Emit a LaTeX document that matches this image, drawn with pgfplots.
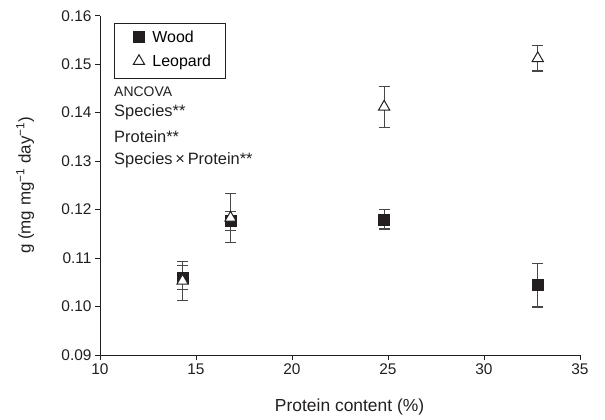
\documentclass[border=0pt]{standalone}
\usepackage{fontspec}
\setmainfont{Liberation Sans}
\usepackage{pgfplots}
\pgfplotsset{compat=1.18}
\definecolor{ink}{HTML}{231F20}
\begin{document}
\begin{tikzpicture}
\begin{axis}[
  at={(100bp,65bp)}, anchor=south west,
  scale only axis, width=480bp, height=339.3bp,
  xmin=10, xmax=35, ymin=0.09, ymax=0.16,
  axis x line*=bottom, axis y line*=left,
  axis line style={ink, line width=1bp},
  xtick={10,15,20,25,30,35},
  ytick={0.09,0.10,0.11,0.12,0.13,0.14,0.15,0.16},
  tick align=outside, major tick length=5bp,
  tick style={ink, line width=1bp},
  /pgf/number format/assume math mode=true,
  yticklabel style={/pgf/number format/fixed, /pgf/number format/fixed zerofill, /pgf/number format/precision=2},
  ticklabel style={font=\fontsize{15.5}{18}\selectfont, text=ink},
  xlabel={Protein content (\%)},
  ylabel={g (mg mg\textsuperscript{−1} day\textsuperscript{−1})},
  xlabel style={at={(axis description cs:0.52,-0.153)}, anchor=center, font=\fontsize{17.5}{20}\selectfont, text=ink},
  ylabel style={at={(axis description cs:-0.156,0.5)}, anchor=center, font=\fontsize{17}{20}\selectfont, text=ink},
  legend cell align=left,
  legend style={draw=ink, line width=0.9bp,
    at={(axis cs:10.73,0.1585)}, anchor=north west,
    font=\fontsize{16}{19}\selectfont,
    inner xsep=9bp, inner ysep=7bp, row sep=7.3bp,
    nodes={inner xsep=5bp, inner ysep=0bp, text height=12bp, text depth=5bp}},
  legend image code/.code={\path[draw=none,fill=none] (0bp,0bp) -- (24bp,0bp); \draw plot coordinates {(15.5bp,2bp)};},
  error bars/y dir=both, error bars/y explicit,
  error bars/error bar style={black!72, line width=1.1bp},
  error bars/error mark options={black!72, line width=1.1bp, mark size=5.5bp, rotate=90},
]
\addplot[only marks, mark=square*, mark size=5.5bp, mark options={fill=ink, draw=ink, line width=0.5bp}]
  coordinates {
  (14.3,0.1060) +- (0,0.0024)
  (16.8,0.1176) +- (0,0.0020)
  (24.8,0.1180) +- (0,0.0020)
  (32.8,0.1044) +- (0,0.0045)
  };
\addlegendentry{Wood}
\addplot[only marks, mark=triangle*, mark size=6.5bp, mark options={fill=white, draw=ink, line width=1bp}]
  coordinates {
  (14.3,0.1053) +- (0,0.0040)
  (16.8,0.1183) +- (0,0.0050)
  (24.8,0.1412) +- (0,0.0042)
  (32.8,0.1512) +- (0,0.0026)
  };
\addlegendentry{Leopard}
\node[anchor=west, inner sep=0pt, font=\fontsize{14}{16}\selectfont, text=ink] at (axis cs:10.73,0.14427) {ANCOVA};
\node[anchor=west, inner sep=0pt, font=\fontsize{16.5}{19}\selectfont, text=ink] at (axis cs:10.73,0.14012) {Species**};
\node[anchor=west, inner sep=0pt, font=\fontsize{16.5}{19}\selectfont, text=ink] at (axis cs:10.73,0.13495) {Protein**};
\node[anchor=west, inner sep=0pt, font=\fontsize{16.5}{19}\selectfont, text=ink] at (axis cs:10.73,0.13027) {Species\,×\,Protein**};
\end{axis}
\pgfresetboundingbox
\path[use as bounding box] (0,0) rectangle (605bp,420bp);
\end{tikzpicture}
\end{document}
